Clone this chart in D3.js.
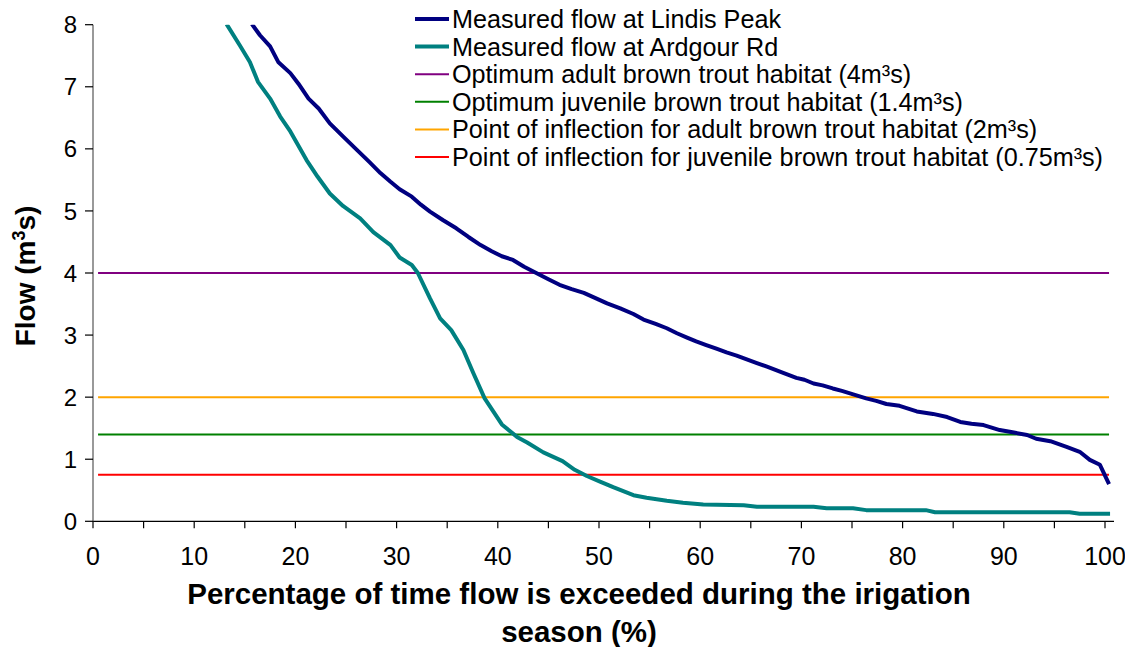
<!DOCTYPE html>
<html>
<head>
<meta charset="utf-8">
<script src="https://cdn.jsdelivr.net/npm/d3@7"></script>
<style>
  html, body { margin: 0; padding: 0; background: #fff; }
  svg { display: block; }
  text { font-family: "Liberation Sans", Arial, sans-serif; }
</style>
</head>
<body>
<svg id="chart" width="1125" height="647"></svg>
<script>
// ---- data ----
const lindisPct  = [15.7,16.5,17.5,18.3,19.5,20.3,21.3,22.3,23.4,24.7,26.1,27.3,28.4,29.4,30.3,31.5,32.4,33.3,34.6,35.9,37.1,38.3,39.4,40.4,41.5,42.6,43.8,45.0,46.1,47.3,48.5,49.6,50.8,52.1,53.4,54.4,55.6,56.7,57.7,58.7,59.6,60.6,61.6,62.6,63.6,64.6,65.6,66.6,68.2,69.5,70.3,71.2,72.1,73.1,74.0,74.8,76.4,77.4,78.4,79.7,81.4,83.0,84.4,85.7,86.8,88.0,89.6,91.0,92.3,93.2,94.6,96.2,97.5,98.5,99.5,100.4];
const lindisFlow = [8.01,7.83,7.65,7.40,7.22,7.05,6.81,6.65,6.41,6.20,5.98,5.79,5.61,5.47,5.35,5.23,5.10,4.99,4.85,4.72,4.58,4.45,4.35,4.27,4.21,4.10,4.00,3.90,3.81,3.74,3.68,3.60,3.51,3.43,3.34,3.25,3.18,3.11,3.03,2.96,2.90,2.84,2.78,2.72,2.67,2.61,2.55,2.49,2.39,2.31,2.28,2.22,2.19,2.14,2.10,2.06,1.98,1.94,1.89,1.86,1.77,1.73,1.68,1.60,1.57,1.55,1.47,1.43,1.39,1.33,1.29,1.20,1.12,0.99,0.91,0.60];

const ardgourPct  = [13.2,14.5,15.5,16.3,17.5,18.5,19.5,20.3,21.1,22.2,23.4,24.7,26.4,27.7,29.4,30.3,31.5,32.1,33.3,34.3,35.4,36.6,37.6,38.7,40.4,41.9,42.9,44.5,46.4,47.6,48.8,50.1,51.4,53.4,54.7,56.7,58.3,60.3,64.3,65.6,71.2,72.5,75.1,76.4,82.3,83.2,96.5,97.5,100.5];
const ardgourFlow = [8.01,7.67,7.40,7.08,6.81,6.52,6.28,6.05,5.82,5.55,5.28,5.08,4.88,4.66,4.45,4.25,4.13,4.00,3.59,3.27,3.08,2.76,2.38,1.98,1.56,1.36,1.27,1.11,0.97,0.83,0.73,0.64,0.55,0.42,0.38,0.33,0.30,0.27,0.26,0.235,0.235,0.21,0.21,0.18,0.18,0.145,0.145,0.12,0.12];

const refValues = [4, 1.4, 2, 0.75];
const refRange  = [0.5, 100.4];

const seriesNames = [
  "Measured flow at Lindis Peak",
  "Measured flow at Ardgour Rd",
  "Optimum adult brown trout habitat (4m³s)",
  "Optimum juvenile brown trout habitat (1.4m³s)",
  "Point of inflection for adult brown trout habitat (2m³s)",
  "Point of inflection for juvenile brown trout habitat (0.75m³s)"
];
const seriesColors = ["#000080", "#008080", "#800080", "#008000", "#FFA500", "#FF0000"];
const seriesWidths = [4, 4, 2, 2, 2, 2];

const xTicks = [0,10,20,30,40,50,60,70,80,90,100];
const xMinorTicks = [5,15,25,35,45,55,65,75,85,95];
const yTicks = [0,1,2,3,4,5,6,7,8];

// ---- layout ----
const svg = d3.select("#chart");
const x = d3.scaleLinear().domain([0, 100]).range([93, 1105]);
const y = d3.scaleLinear().domain([0, 8]).range([521.3, 24.7]);

svg.append("clipPath").attr("id", "plotclip")
  .append("rect").attr("x", 93).attr("y", y(8)).attr("width", 1030).attr("height", y(0) - y(8));

const plot = svg.append("g").attr("clip-path", "url(#plotclip)");

// reference lines (drawn first)
const refs = refValues.map((v, i) => ({ v, color: seriesColors[i + 2], w: seriesWidths[i + 2] }));
plot.selectAll("line.ref").data(refs).enter().append("line")
  .attr("class", "ref")
  .attr("x1", x(refRange[0])).attr("x2", x(refRange[1]))
  .attr("y1", d => y(d.v)).attr("y2", d => y(d.v))
  .attr("stroke", d => d.color).attr("stroke-width", d => d.w);

const line = d3.line().x(d => x(d[0])).y(d => y(d[1]));
const ardgour = ardgourPct.map((p, i) => [p, ardgourFlow[i]]);
const lindis = lindisPct.map((p, i) => [p, lindisFlow[i]]);

plot.append("path").datum(ardgour).attr("d", line)
  .attr("fill", "none").attr("stroke", seriesColors[1]).attr("stroke-width", seriesWidths[1])
  .attr("stroke-linejoin", "round");
plot.append("path").datum(lindis).attr("d", line)
  .attr("fill", "none").attr("stroke", seriesColors[0]).attr("stroke-width", seriesWidths[0])
  .attr("stroke-linejoin", "round");

// axes
const xAxis = svg.append("g").attr("transform", `translate(0,${y(0)})`);
xAxis.append("line").attr("x1", 93).attr("x2", 1114).attr("y1", 0).attr("y2", 0)
  .attr("stroke", "#000").attr("stroke-width", 1.2);
xAxis.selectAll("line.tk").data(xTicks.concat(xMinorTicks)).enter().append("line")
  .attr("x1", d => x(d)).attr("x2", d => x(d)).attr("y1", 0).attr("y2", 7)
  .attr("stroke", "#000").attr("stroke-width", 1.2);
xAxis.selectAll("text").data(xTicks).enter().append("text")
  .attr("x", d => x(d)).attr("y", 44)
  .attr("text-anchor", "middle").attr("font-size", 25).attr("fill", "#000")
  .text(d => d);

const yAxis = svg.append("g").attr("transform", "translate(93,0)");
yAxis.append("line").attr("x1", 0).attr("x2", 0).attr("y1", y(8)).attr("y2", y(0))
  .attr("stroke", "#555").attr("stroke-width", 1.2);
yAxis.selectAll("line.tk").data(yTicks).enter().append("line")
  .attr("x1", -8).attr("x2", 0).attr("y1", d => y(d)).attr("y2", d => y(d))
  .attr("stroke", "#000").attr("stroke-width", 1.2);
yAxis.selectAll("text").data(yTicks).enter().append("text")
  .attr("x", -16).attr("y", d => y(d)).attr("dy", "0.36em")
  .attr("text-anchor", "end").attr("font-size", 24).attr("fill", "#000")
  .text(d => d);

// axis titles
const yt = svg.append("text")
  .attr("transform", "translate(35,276) rotate(-90)")
  .attr("text-anchor", "middle").attr("font-size", 28).attr("font-weight", "bold");
yt.append("tspan").text("Flow (m");
yt.append("tspan").attr("font-size", 18).attr("dy", -10).text("3");
yt.append("tspan").attr("dy", 10).text("s)");

svg.append("text").attr("x", 579).attr("y", 604)
  .attr("text-anchor", "middle").attr("font-size", 29.5).attr("font-weight", "bold")
  .text("Percentage of time flow is exceeded during the irigation");
svg.append("text").attr("x", 579).attr("y", 642)
  .attr("text-anchor", "middle").attr("font-size", 29.5).attr("font-weight", "bold")
  .text("season (%)");

// legend
const legend = svg.append("g").attr("transform", "translate(415,19)");
const items = legend.selectAll("g").data(seriesNames).enter().append("g")
  .attr("transform", (d, i) => `translate(0,${i * 27.6})`);
items.append("line").attr("x1", 0).attr("x2", 34).attr("y1", 0).attr("y2", 0)
  .attr("stroke", (d, i) => seriesColors[i]).attr("stroke-width", (d, i) => seriesWidths[i]);
items.append("text").attr("x", 37).attr("y", 0).attr("dy", "0.36em")
  .attr("font-size", 25.2).attr("fill", "#000")
  .text(d => d);
</script>
</body>
</html>
